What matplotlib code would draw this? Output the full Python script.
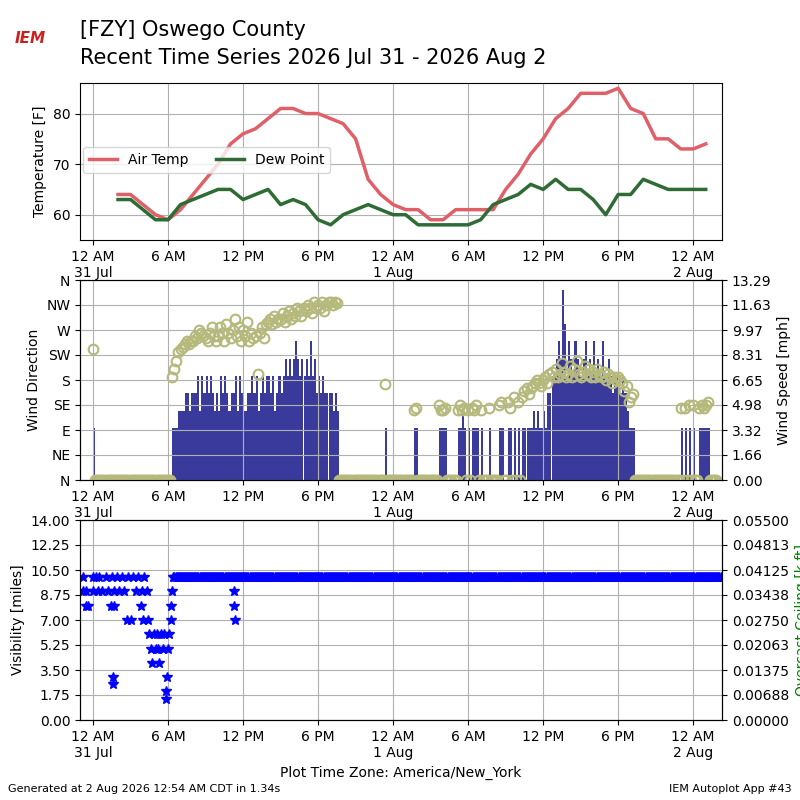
import numpy as np
import matplotlib.pyplot as plt

# Hourly obs, starting at 2 AM 31 Jul (hours since midnight)
temp = [64, 64, 62, 60, 59, 61, 64, 67, 70, 74, 76, 77, 79, 81, 81, 80, 80, 79, 78, 75, 67, 64, 62, 61,
        61, 59, 59, 61, 61, 61, 61, 65, 68, 72, 75, 79, 81, 84, 84, 84, 85, 81, 80, 75, 75, 73, 73, 74]
dwpt = [63, 63, 61, 59, 59, 62, 63, 64, 65, 65, 63, 64, 65, 62, 63, 62, 59, 58, 60, 61, 62, 61, 60, 60,
        58, 58, 58, 58, 58, 59, 62, 63, 64, 66, 65, 67, 65, 65, 63, 60, 64, 64, 67, 66, 65, 65, 65, 65]

# wind speed [kt], six 10-minute slots per hour, hour 0 .. 49
Z = [0] * 6
sknt = [[3, 0, 0, 0, 0, 0], Z, Z, Z, Z, Z,
        [0, 0, 3, 3, 3, 4], [4, 4, 5, 5, 4, 5], [5, 5, 6, 4, 6, 5], [6, 5, 6, 5, 4, 5],
        [4, 6, 5, 6, 5, 4], [5, 5, 6, 4, 6, 5], [4, 4, 5, 5, 6, 5], [6, 4, 5, 6, 5, 6],
        [6, 5, 6, 4, 5, 6], [5, 6, 7, 6, 7, 6], [7, 8, 7, 6, 7, 6], [7, 6, 8, 6, 7, 5],
        [6, 5, 6, 5, 5, 5], [5, 4, 5, 4, 0, 0], Z, Z, Z, [0, 0, 3, 0, 0, 0], Z,
        [0, 0, 0, 0, 3, 3], Z, [0, 0, 0, 0, 3, 3], [3, 3, 0, 0, 0, 0], [0, 3, 3, 4, 3, 0],
        [3, 0, 3, 3, 3, 0], [3, 0, 0, 0, 3, 0], [0, 0, 0, 3, 3, 0], [0, 3, 3, 0, 3, 0],
        [3, 0, 3, 3, 3, 3], [3, 4, 3, 4, 3, 3], [4, 3, 5, 5, 6, 6], [7, 8, 7, 11, 9, 6],
        [8, 7, 6, 8, 7, 6], [6, 7, 8, 6, 7, 6], [8, 6, 7, 6, 8, 6], [6, 7, 6, 5, 6, 6],
        [6, 5, 6, 5, 4, 3], [3, 3, 0, 0, 0, 0], Z, Z, Z,
        [3, 0, 3, 0, 3, 0], [3, 0, 0, 3, 3, 3], [3, 3, 0, 0, 0, 0]]
drct = [[236, 0, 0, 0, 0, 0], Z, Z, Z, Z, Z,
        [0, 0, 185, 200, 215, 230], [235, 240, 245, 250, 245, 250], [250, 260, 255, 270, 265, 260],
        [255, 250, 265, 275, 260, 250], [260, 275, 265, 250, 280, 265], [255, 270, 290, 260, 275, 250],
        [270, 260, 285, 250, 265, 255], [260, 190, 265, 275, 255, 280], [285, 290, 280, 295, 285, 290],
        [290, 300, 285, 295, 305, 290], [300, 295, 310, 305, 295, 310], [305, 315, 310, 300, 320, 310],
        [315, 310, 320, 305, 315, 320], [320, 315, 320, 318, 0, 0], Z, Z, Z, [0, 0, 173, 0, 0, 0], Z,
        [0, 0, 0, 0, 126, 130], Z, [0, 0, 0, 0, 135, 126], [126, 130, 0, 0, 0, 0],
        [0, 126, 135, 126, 130, 0], [126, 0, 130, 126, 135, 0], [126, 0, 0, 0, 130, 0],
        [0, 0, 0, 135, 140, 0], [0, 140, 130, 0, 150, 0], [140, 0, 150, 160, 165, 155],
        [165, 170, 175, 180, 175, 170], [180, 185, 175, 190, 195, 185], [200, 185, 190, 210, 195, 185],
        [190, 205, 185, 200, 215, 190], [185, 195, 205, 190, 200, 185], [195, 185, 200, 190, 185, 195],
        [180, 190, 185, 175, 185, 180], [185, 180, 175, 160, 170, 140], [150, 155, 0, 0, 0, 0],
        Z, Z, Z, [130, 0, 130, 0, 135, 0], [135, 0, 0, 130, 135, 130], [135, 140, 0, 0, 0, 0]]

# (hour, visibility [miles]) for the foggy morning, clear 10 mi afterwards
vis_obs = [(-0.8, 10), (-0.8, 9), (-0.6, 8), (-0.6, 9), (-0.4, 8), (0.0, 10), (0.0, 9), (0.2, 10),
           (0.4, 9), (0.5, 10), (0.7, 9), (1.0, 10), (1.2, 9), (1.4, 8), (1.5, 10), (1.6, 3),
           (1.6, 2.5), (1.7, 9), (1.7, 8), (1.9, 10), (2.1, 9), (2.3, 10), (2.5, 9), (2.7, 7),
           (2.8, 10), (3.0, 7), (3.2, 10), (3.4, 9), (3.6, 10), (3.8, 8), (3.9, 9), (4.0, 7),
           (4.1, 10), (4.3, 9), (4.4, 7), (4.5, 6), (4.6, 5), (4.7, 4), (4.9, 6), (5.0, 5),
           (5.1, 6), (5.2, 5), (5.3, 4), (5.4, 6), (5.6, 5), (5.7, 6), (5.8, 2), (5.85, 1.5),
           (5.9, 3), (6.0, 5), (6.1, 6), (6.2, 7), (6.25, 8), (6.3, 9), (6.4, 10), (6.5, 10),
           (11.3, 9), (11.3, 8), (11.35, 7)]

TICKS = list(range(0, 49, 6))
TLABELS = ['12 AM\n31 Jul', '6 AM', '12 PM', '6 PM', '12 AM\n1 Aug', '6 AM', '12 PM', '6 PM',
           '12 AM\n2 Aug']
XLIM = (-1.04, 50.3)
SMAX = 13.2917  # top of the wind speed axis [mph]


def time_axis(ax):
    """Shared x axis setup for every panel"""
    ax.set_xticks(TICKS)
    ax.set_xticklabels(TLABELS)
    ax.set_xlim(*XLIM)
    ax.grid(True)


def main():
    fig = plt.figure(figsize=(8, 8), dpi=100)
    fig.text(0.1, 0.962, '[FZY] Oswego County', fontsize=15, va='center')
    fig.text(0.1, 0.928, 'Recent Time Series 2026 Jul 31 - 2026 Aug 2', fontsize=15, va='center')
    fig.text(0.038, 0.952, 'IEM', fontsize=11, color='#cc2020', style='italic', fontweight='bold',
             ha='center', va='center')
    fig.text(0.01, 0.01, 'Generated at 2 Aug 2026 12:54 AM CDT in 1.34s', fontsize=8)
    fig.text(0.99, 0.01, 'IEM Autoplot App #43', fontsize=8, ha='right')

    # Temperature panel
    ax = fig.add_axes([0.1, 0.70, 0.8025, 0.196])
    hrs = np.arange(2, 2 + len(temp))
    ax.plot(hrs, temp, color='#e0606a', lw=2.5, label='Air Temp')
    ax.plot(hrs, dwpt, color='#2f6b35', lw=2.5, label='Dew Point')
    ax.set_ylim(55, 86)
    ax.set_yticks([60, 70, 80])
    ax.set_ylabel('Temperature [F]')
    ax.legend(ncol=2, loc=(0.005, 0.43))
    time_axis(ax)

    # Wind panel
    ax2 = fig.add_axes([0.1, 0.40, 0.8025, 0.25])
    ax2b = ax2.twinx()
    slot_t = np.array([h + k / 6.0 for h in range(len(sknt)) for k in range(6)])
    spd = np.array([s for row in sknt for s in row]) * 1.15078  # kt -> mph
    dirs = np.array([d for row in drct for d in row])
    ax2b.bar(slot_t, spd, width=0.165, color='#3a3a9c', align='edge')
    ax2b.set_ylim(0, SMAX)
    ax2b.set_yticks(np.linspace(0, SMAX, 9))
    ax2b.set_yticklabels(['%.2f' % v for v in np.linspace(0, SMAX, 9)])
    ax2b.set_ylabel('Wind Speed [mph]')
    ax2.plot(slot_t, dirs, 'o', mfc='none', mec='#b6b97c', mew=1.5, ms=7)
    ax2.set_zorder(ax2b.get_zorder() + 1)
    ax2.patch.set_visible(False)
    ax2.set_ylim(0, 360)
    ax2.set_yticks(range(0, 361, 45))
    ax2.set_yticklabels(['N', 'NE', 'E', 'SE', 'S', 'SW', 'W', 'NW', 'N'])
    ax2.set_ylabel('Wind Direction')
    time_axis(ax2)

    # Visibility panel
    ax3 = fig.add_axes([0.1, 0.10, 0.8025, 0.25])
    ax3b = ax3.twinx()
    clear = np.arange(6.6, 50.3, 1 / 12.0)
    vx = [p[0] for p in vis_obs] + list(clear)
    vy = [p[1] for p in vis_obs] + [10] * len(clear)
    ax3.plot(vx, vy, '*', color='b', ms=7)
    ax3.set_ylim(0, 14)
    ax3.set_yticks(np.linspace(0, 14, 9))
    ax3.set_ylabel('Visibility [miles]')
    ax3.set_xlabel('Plot Time Zone: America/New_York')
    ax3b.set_ylim(0, 0.055)
    ax3b.set_yticks(np.linspace(0, 0.055, 9))
    ax3b.set_yticklabels(['%.5f' % v for v in np.linspace(0, 0.055, 9)])
    ax3b.set_ylabel('Overcast Ceiling [k ft]', color='g')
    time_axis(ax3)

    fig.savefig('out.png', dpi=100)


main()
